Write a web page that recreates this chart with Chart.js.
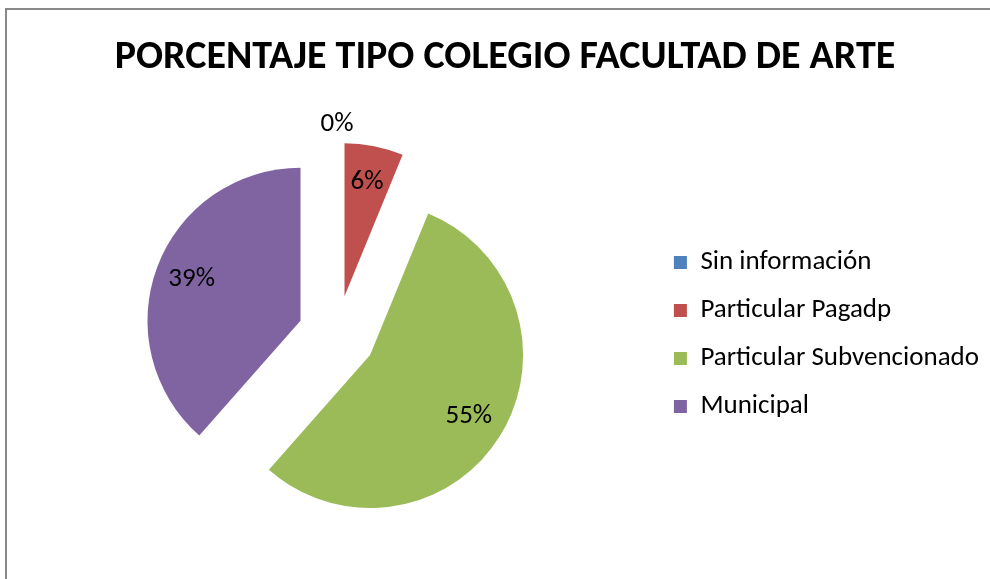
<!DOCTYPE html>
<html>
<head>
<meta charset="utf-8">
<script src="https://cdn.jsdelivr.net/npm/chart.js@4/dist/chart.umd.min.js"></script>
<style>
  html, body { margin: 0; padding: 0; background: #fff; overflow: hidden; }
  #frame { position: absolute; left: 5px; top: 8px; width: 1100px; height: 700px;
           border-left: 2px solid #888; border-top: 2px solid #888; }
  #myChart { position: absolute; left: 0; top: 0; }
</style>
</head>
<body>
<div id="frame"></div>
<canvas id="myChart" width="990" height="579"></canvas>
<script>
// data (percentages)
const labels = ["Sin información", "Particular Pagadp", "Particular Subvencionado", "Municipal"];
const values = [0, 6.2, 55.3, 38.5];
const colors = ["#4F81BD", "#C0504D", "#9BBB59", "#8064A2"];

const FONT = "Carlito, Lato, sans-serif";
const pieRadius = 153;

// chart.js grows exploded arcs by (offset/4)*fix, undo that so every slice keeps the same radius
const evenSlices = {
    id: 'evenSlices',
    afterDatasetUpdate(chart, args) {
        const meta = args.meta;
        const R = meta.controller.outerRadius;
        meta.data.forEach(arc => {
            const t = (arc.options.offset || 0) / 4;
            const fix = 1 - Math.sin(Math.min(Math.PI, arc.circumference || 0));
            const ro = t * fix;
            arc.outerRadius = R - ro;
            const a = ro / (2 * Math.PI * R);
            if (arc.circumference > 0) {
                arc.startAngle -= a;
                arc.endAngle += a;
            }
        });
    }
};

// percentage labels on the slices
const sliceLabels = {
    id: 'sliceLabels',
    afterDatasetsDraw(chart) {
        const ctx = chart.ctx;
        const meta = chart.getDatasetMeta(0);
        const data = chart.data.datasets[0].data;
        const total = data.reduce((s, v) => s + v, 0);
        const R = meta.controller.outerRadius;
        ctx.save();
        ctx.font = "27px " + FONT;
        ctx.fillStyle = "#000";
        ctx.textAlign = "center";
        ctx.textBaseline = "middle";
        meta.data.forEach((arc, i) => {
            const mid = (arc.startAngle + arc.endAngle) / 2;
            const t = (arc.options.offset || 0) / 4;
            const d = t + (data[i] === 0 ? 1.12 : 0.76) * R;
            const x = arc.x + Math.cos(mid) * d;
            const y = arc.y + Math.sin(mid) * d;
            ctx.fillText(Math.round(data[i] / total * 100) + "%", x, y);
        });
        ctx.restore();
    }
};

const ctx = document.getElementById('myChart').getContext("2d");

new Chart(ctx, {
    type: 'pie',
    data: {
        labels: labels,
        datasets: [{
            data: values,
            backgroundColor: colors,
            borderWidth: 0,
            offset: 156
        }]
    },
    options: {
        responsive: false,
        animation: false,
        radius: pieRadius,
        layout: { padding: { left: 21, right: 1, top: 0, bottom: 7 } },
        plugins: {
            title: {
                display: true,
                text: "PORCENTAJE TIPO COLEGIO FACULTAD DE ARTE",
                color: "#000",
                font: { family: FONT, size: 40, weight: "bold" },
                padding: { top: 34, bottom: 15 }
            },
            legend: {
                position: 'right',
                fullSize: false,
                labels: {
                    color: "#000",
                    font: { family: FONT, size: 27 },
                    boxWidth: 13,
                    boxHeight: 13,
                    padding: 21
                }
            },
            tooltip: { enabled: false }
        }
    },
    plugins: [evenSlices, sliceLabels]
});
</script>
</body>
</html>
